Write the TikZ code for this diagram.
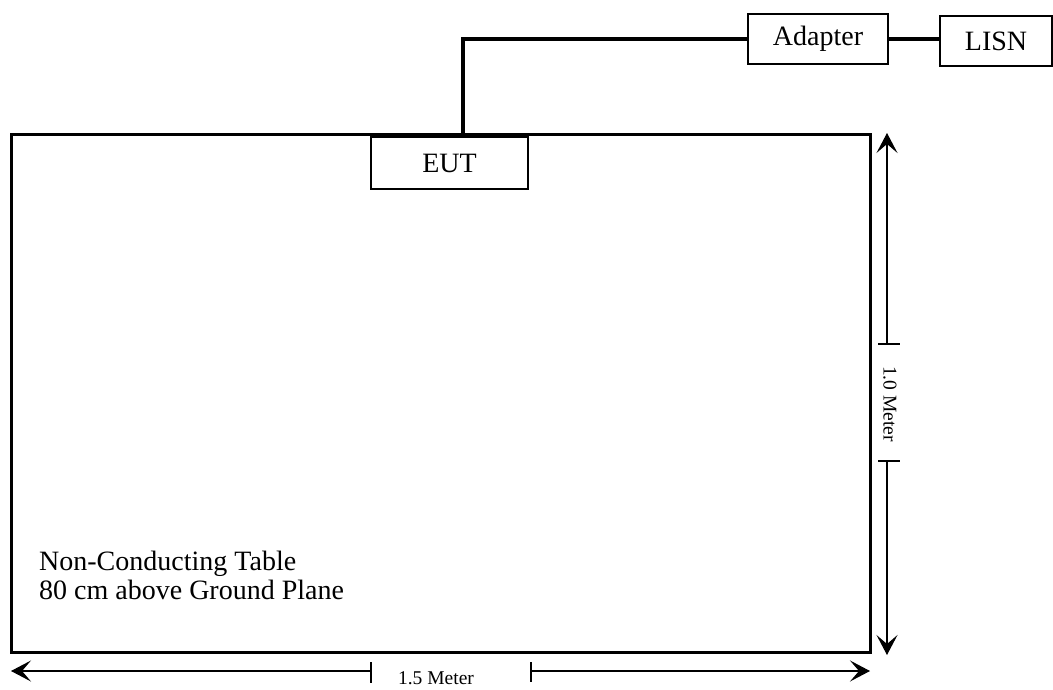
\documentclass[tikz,border=0pt]{standalone}
\usepackage{fontspec}
\setmainfont{Liberation Serif}
\usetikzlibrary{arrows.meta,calc}
\begin{document}
\begin{tikzpicture}[x=1pt,y=-1pt,
  tablebox/.style={draw, line width=3pt, minimum width=858.5pt, minimum height=517.5pt, inner sep=0pt},
  box/.style={draw, line width=1.5pt, inner sep=0pt, font=\fontsize{28}{30}\selectfont},
  wire/.style={line width=3.5pt},
  dimarrow/.style={line width=1.1pt, -{Stealth[length=20pt,width=21pt,inset=9pt]}},
  tickline/.style={line width=1.4pt},
  label/.style={font=\fontsize{28}{30}\selectfont, inner sep=0pt},
  meter/.style={font=\fontsize{19.5}{22}\selectfont, inner sep=0pt}
]
\useasboundingbox (0,0) rectangle (1053,690);
\node[tablebox] (table) at (440.75,393.25) {};
\node[box, minimum width=157pt, minimum height=52pt] (eut) at (449.5,163) {EUT};
\node[box, minimum width=140pt, minimum height=50pt] (adapter) at (818,39) {Adapter};
\node[box, minimum width=112pt, minimum height=50pt] (lisn) at (996,41) {LISN};
\draw[wire] ([xshift=13.5pt]eut.north) |- (adapter.west);
\draw[wire] (adapter.east) -- (adapter.east -| lisn.west);
\node[label, anchor=base west] (l1) at (39,570) {Non-Conducting Table};
\node[label, anchor=base west] (l2) at (39,599) {80 cm above Ground Plane};
% vertical dimension
\coordinate (vtop) at (887,133);
\coordinate (vt1) at (887,344);
\coordinate (vt2) at (887,461);
\coordinate (vbot) at (887,655);
\draw[dimarrow] (vt1) -- (vtop);
\draw[dimarrow] (vt2) -- (vbot);
\draw[tickline] ($(vt1)+(-9,0)$) -- ($(vt1)+(13,0)$);
\draw[tickline] ($(vt2)+(-9,0)$) -- ($(vt2)+(13,0)$);
\node[meter, rotate=-90] (vlabel) at (890,404) {1.0 Meter};
% horizontal dimension
\coordinate (hl) at (11,671);
\coordinate (ht1) at (371,671);
\coordinate (ht2) at (531,671);
\coordinate (hr) at (870,671);
\draw[dimarrow] (ht1) -- (hl);
\draw[dimarrow] (ht2) -- (hr);
\draw[tickline] ($(ht1)+(0,-9)$) -- ($(ht1)+(0,12)$);
\draw[tickline] ($(ht2)+(0,-9)$) -- ($(ht2)+(0,11)$);
\node[meter] (hlabel) at (436,678) {1.5 Meter};
\end{tikzpicture}
\end{document}
